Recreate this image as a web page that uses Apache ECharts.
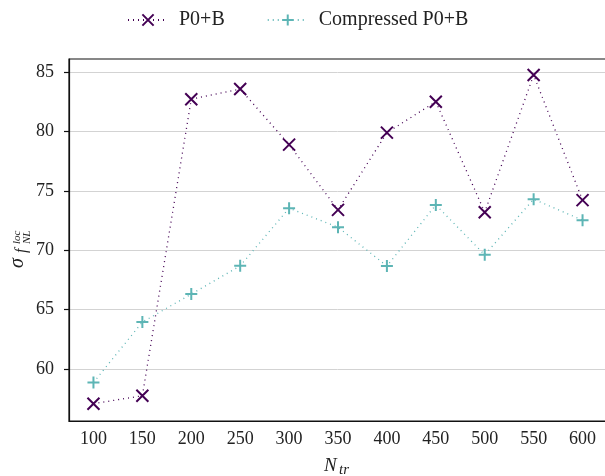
<!DOCTYPE html>
<html>
<head>
<meta charset="utf-8">
<script src="https://cdn.jsdelivr.net/npm/echarts@6/dist/echarts.min.js"></script>
<style>
  html, body { margin: 0; padding: 0; background: #fff; }
  #main { width: 605px; height: 476px; }
</style>
</head>
<body>
<div id="main"></div>
<script>
const nTrain = ['100', '150', '200', '250', '300', '350', '400', '450', '500', '550', '600'];
const p0b = [57.06, 57.73, 82.73, 83.59, 78.9, 73.4, 79.91, 82.52, 73.2, 84.77, 74.22];
const compressedP0b = [58.85, 63.94, 66.3, 68.68, 73.54, 71.94, 68.66, 73.82, 69.61, 74.3, 72.53];
const yTicks = [60, 65, 70, 75, 80, 85];

const FONT = '"Liberation Serif", "DejaVu Serif", serif';
const crossPath = 'path://M0,0L10,10M10,0L0,10';
const plusPath = 'path://M5,0L5,10M0,5L10,5';

const chart = echarts.init(document.getElementById('main'), null, { renderer: 'canvas' });

const options = {
    backgroundColor: '#fff',
    animation: false,
    textStyle: { fontFamily: FONT },
    legend: {
        top: 5,
        left: 122,
        itemWidth: 40,
        itemHeight: 14,
        itemGap: 42,
        textStyle: { fontFamily: FONT, fontSize: 20, color: '#222', padding: [0, 0, 0, 6] },
        data: ['P0+B', 'Compressed P0+B']
    },
    grid: {
        left: 69,
        right: -2,
        top: 59,
        bottom: 55,
        outerBoundsMode: 'none',
        show: true,
        borderColor: '#111',
        borderWidth: 1.2
    },
    xAxis: {
        type: 'category',
        data: nTrain,
        boundaryGap: true,
        axisLine: { lineStyle: { color: '#111', width: 1.2 } },
        axisTick: { alignWithLabel: true, length: 5, lineStyle: { color: '#111', width: 1.2 } },
        axisLabel: { fontFamily: FONT, fontSize: 18, color: '#222', margin: 9 },
        splitLine: { show: false }
    },
    yAxis: {
        type: 'value',
        min: 55.6,
        max: 86.12,
        splitNumber: 6,
        axisLine: { show: true, lineStyle: { color: '#111', width: 1.2 } },
        axisTick: { show: true, length: 5, customValues: yTicks, lineStyle: { color: '#111', width: 1.2 } },
        axisLabel: { fontFamily: FONT, fontSize: 18, color: '#222', margin: 15, customValues: yTicks },
        splitLine: { show: true, lineStyle: { color: '#d3d3d3', width: 1 } }
    },
    graphic: {
        elements: [
            {
                // x axis title N_tr
                type: 'group',
                left: 324,
                top: 456,
                children: [
                    { type: 'text', x: 0, y: 0, style: { text: 'N', font: 'italic 19px ' + FONT, fill: '#222' } },
                    { type: 'text', x: 15, y: 7, style: { text: 'tr', font: 'italic 15px ' + FONT, fill: '#222' } }
                ]
            },
            {
                // y axis title sigma_{f_NL^loc}
                type: 'group',
                x: 8,
                y: 268,
                rotation: Math.PI / 2,
                children: [
                    { type: 'text', x: 0, y: 0, style: { text: 'σ', font: 'italic 20px ' + FONT, fill: '#222' } },
                    { type: 'text', x: 15, y: 6, style: { text: 'f', font: 'italic 16px ' + FONT, fill: '#222' } },
                    { type: 'text', x: 24, y: 4, style: { text: 'loc', font: 'italic 11px ' + FONT, fill: '#222' } },
                    { type: 'text', x: 24, y: 14, style: { text: 'NL', font: 'italic 11px ' + FONT, fill: '#222' } }
                ]
            }
        ]
    },
    series: [
        {
            name: 'P0+B',
            type: 'line',
            data: p0b,
            symbol: crossPath,
            symbolSize: 12,
            showAllSymbol: true,
            lineStyle: { color: '#440154', width: 1.3, type: [1, 4] },
            itemStyle: { color: '#440154', borderColor: '#440154', borderWidth: 2 },
            z: 3
        },
        {
            name: 'Compressed P0+B',
            type: 'line',
            data: compressedP0b,
            symbol: plusPath,
            symbolSize: 12,
            showAllSymbol: true,
            lineStyle: { color: '#5db5b5', width: 1.3, type: [1, 4] },
            itemStyle: { color: '#5db5b5', borderColor: '#5db5b5', borderWidth: 2 },
            z: 2
        }
    ]
};

chart.setOption(options);
</script>
</body>
</html>
